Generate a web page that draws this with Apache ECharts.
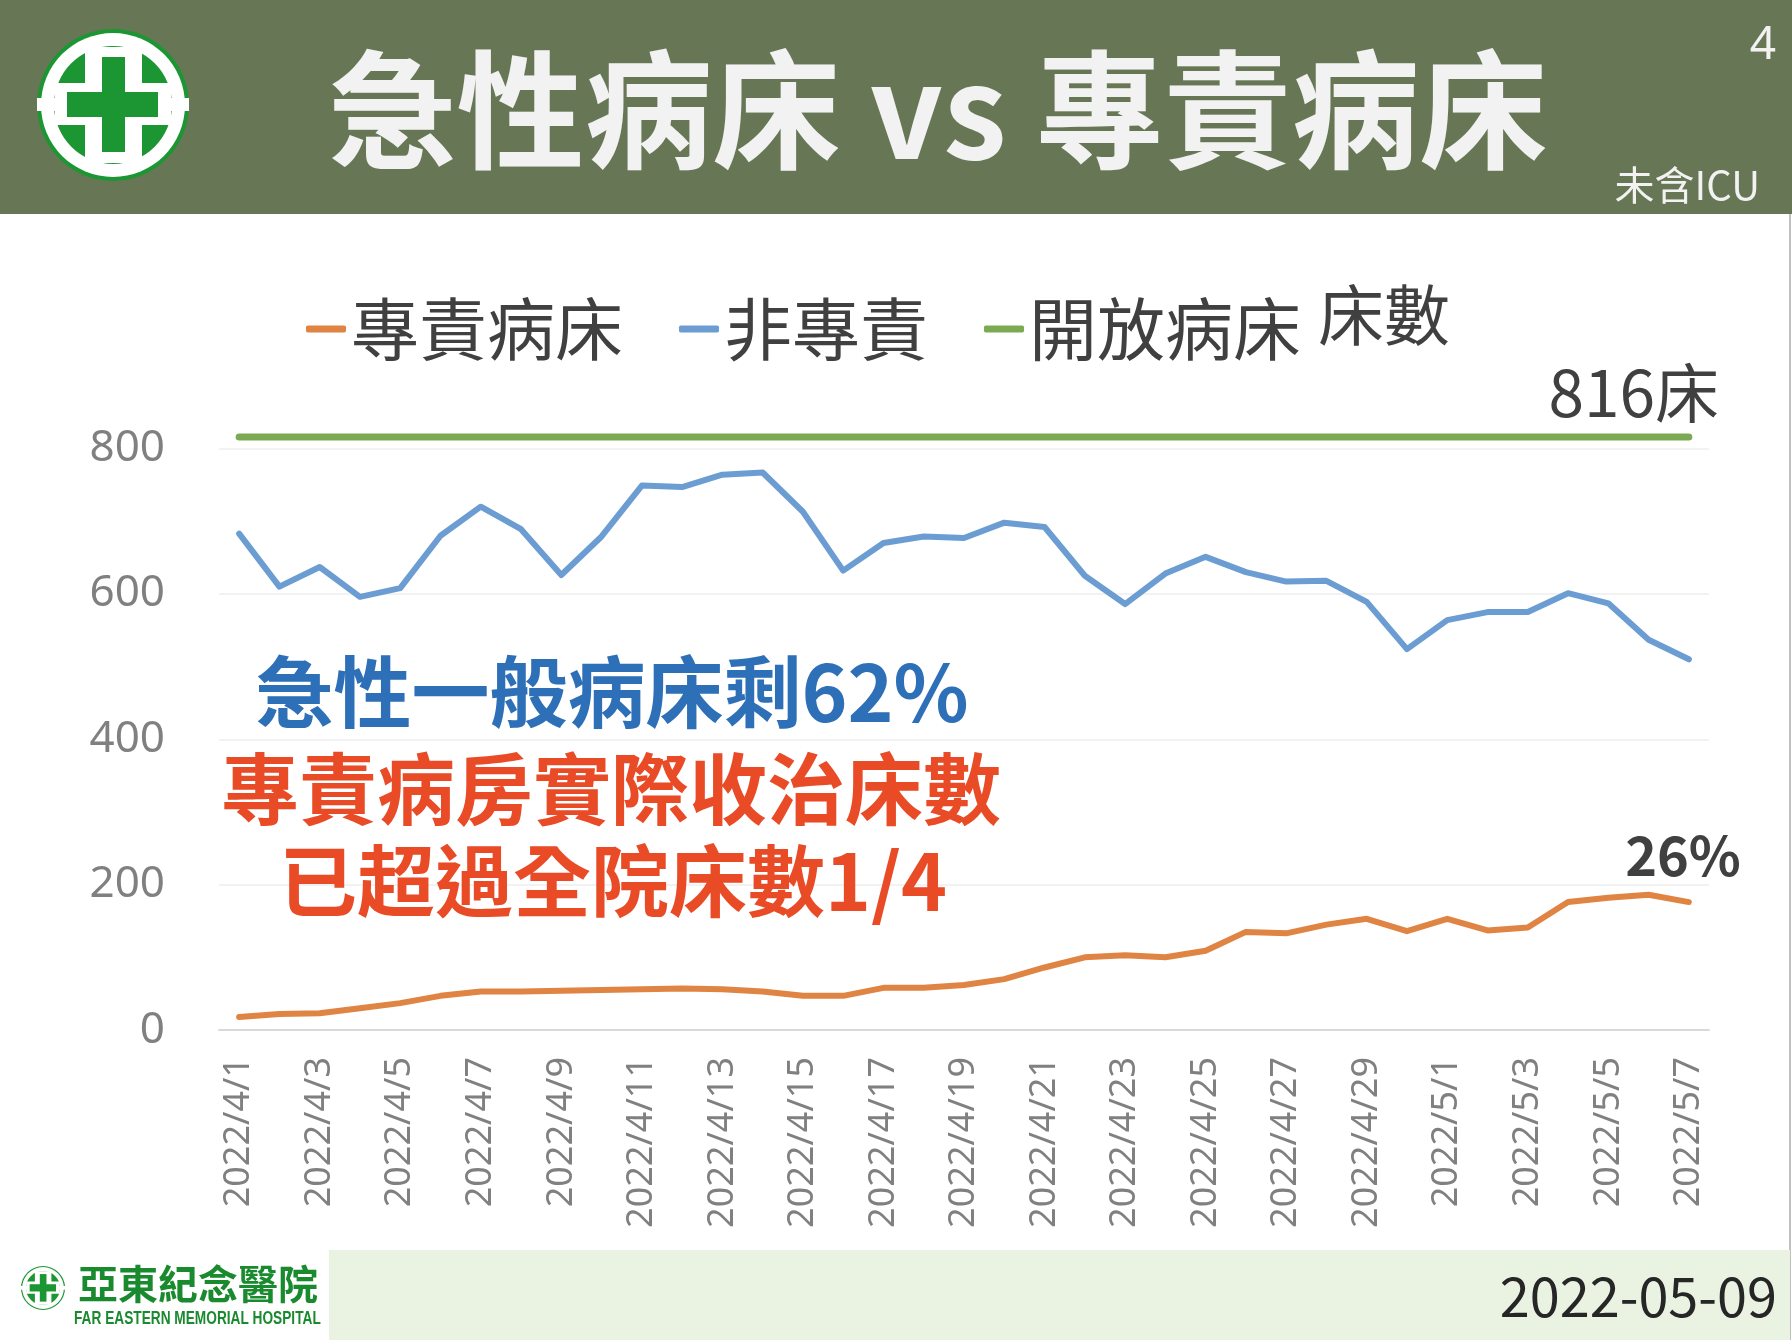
<!DOCTYPE html>
<html>
<head>
<meta charset="utf-8">
<title>急性病床 vs 專責病床</title>
<script src="https://cdn.jsdelivr.net/npm/echarts@6/dist/echarts.min.js"></script>
<style>
  html, body { margin: 0; padding: 0; background: #fff; }
  #main { width: 1792px; height: 1340px; }
</style>
</head>
<body>
<div id="main"></div>
<script>
var dates = ['2022/4/1','2022/4/2','2022/4/3','2022/4/4','2022/4/5','2022/4/6','2022/4/7','2022/4/8','2022/4/9','2022/4/10',
  '2022/4/11','2022/4/12','2022/4/13','2022/4/14','2022/4/15','2022/4/16','2022/4/17','2022/4/18','2022/4/19','2022/4/20',
  '2022/4/21','2022/4/22','2022/4/23','2022/4/24','2022/4/25','2022/4/26','2022/4/27','2022/4/28','2022/4/29','2022/4/30',
  '2022/5/1','2022/5/2','2022/5/3','2022/5/4','2022/5/5','2022/5/6','2022/5/7'];

// 專責病床
var covidBeds = [18, 22, 23, 30, 37, 47, 53, 53, 54, 55,
  56, 57, 56, 53, 47, 47, 58, 58, 62, 70,
  86, 100, 103, 100, 109, 135, 133, 145, 153, 136,
  153, 137, 141, 176, 182, 186, 176];

// 非專責
var otherBeds = [683, 610, 637, 596, 608, 680, 720, 689, 626, 679,
  749, 747, 764, 767, 713, 632, 670, 679, 677, 698,
  692, 625, 586, 628, 651, 630, 617, 618, 589, 524,
  564, 575, 575, 601, 587, 537, 510];

// 開放病床
var openBeds = [816, 816, 816, 816, 816, 816, 816, 816, 816, 816,
  816, 816, 816, 816, 816, 816, 816, 816, 816, 816,
  816, 816, 816, 816, 816, 816, 816, 816, 816, 816,
  816, 816, 816, 816, 816, 816, 816];

var yMax = 820;   // top of plot, just above the 816 line; only 0..800 are labelled

var CJK = '"Noto Sans CJK TC", "Noto Sans CJK SC", sans-serif';

function makeLogo(cx, cy, s) {
  var g = '#1c9632';
  return {
    type: 'group', x: cx, y: cy, scaleX: s, scaleY: s,
    children: [
      { type: 'circle', shape: { cx: 0, cy: 0, r: 76 }, style: { fill: g } },
      { type: 'circle', shape: { cx: 0, cy: 0, r: 72 }, style: { fill: '#fff' } },
      { type: 'circle', shape: { cx: 0, cy: 0, r: 59 }, style: { fill: g } },
      { type: 'rect', shape: { x: -76, y: -7, width: 152, height: 13 }, style: { fill: '#fff' } },
      { type: 'rect', shape: { x: -28, y: -58, width: 57, height: 116 }, style: { fill: '#fff' } },
      { type: 'rect', shape: { x: -58, y: -22, width: 116, height: 42 }, style: { fill: '#fff' } },
      { type: 'rect', shape: { x: -11, y: -48, width: 23, height: 95 }, style: { fill: g } },
      { type: 'rect', shape: { x: -46, y: -13, width: 91, height: 25 }, style: { fill: g } }
    ]
  };
}

var chart = echarts.init(document.getElementById('main'));

var option = {
  backgroundColor: '#ffffff',
  animation: false,
  textStyle: { fontFamily: CJK },
  legend: {
    left: 306,
    top: 295,
    padding: 0,
    itemGap: 56,
    itemWidth: 40,
    itemHeight: 7,
    icon: 'roundRect',
    textStyle: { fontSize: 68, color: '#404040', fontFamily: CJK },
    data: ['專責病床', '非專責', '開放病床']
  },
  grid: { left: 219, right: 83, top: 434, bottom: 310, containLabel: false },
  xAxis: {
    type: 'category',
    boundaryGap: true,
    data: dates,
    axisLine: { lineStyle: { color: '#d9d9d9', width: 2 } },
    axisTick: { show: false },
    axisLabel: {
      interval: 1,
      rotate: 90,
      margin: 27,
      fontSize: 36,
      color: '#808080',
      fontFamily: '"Noto Sans", sans-serif'
    }
  },
  yAxis: {
    type: 'value',
    min: 0,
    max: yMax,
    interval: 200,
    axisLine: { show: false },
    axisTick: { show: false },
    axisLabel: { fontSize: 44, color: '#808080', margin: 54, showMaxLabel: false,
      fontFamily: '"Noto Sans", sans-serif' },
    splitLine: { showMaxLine: false, lineStyle: { color: '#eeeeee', width: 1.5 } }
  },
  series: [
    {
      name: '專責病床', type: 'line', data: covidBeds,
      showSymbol: false, symbol: 'none',
      itemStyle: { color: '#e08443' },
      lineStyle: { color: '#e08443', width: 6, cap: 'round', join: 'round' }
    },
    {
      name: '非專責', type: 'line', data: otherBeds,
      showSymbol: false, symbol: 'none',
      itemStyle: { color: '#6b9dd3' },
      lineStyle: { color: '#6b9dd3', width: 6, cap: 'round', join: 'round' }
    },
    {
      name: '開放病床', type: 'line', data: openBeds,
      showSymbol: false, symbol: 'none',
      itemStyle: { color: '#7baa53' },
      lineStyle: { color: '#7baa53', width: 7, cap: 'round' }
    }
  ],
  graphic: [
    // header
    { type: 'rect', shape: { x: 0, y: 0, width: 1792, height: 214 }, style: { fill: '#677755' }, z: 0 },
    makeLogo(113, 105, 1),
    {
      type: 'text', x: 938, y: 110,
      style: { text: '急性病床 vs 專責病床', fill: '#f2f2f2', fontSize: 128, fontWeight: 'bold',
        fontFamily: CJK, textAlign: 'center', textVerticalAlign: 'middle' }
    },
    {
      type: 'text', x: 1763, y: 46,
      style: { text: '4', fill: '#f2f2f2', fontSize: 46, fontFamily: '"Noto Sans", sans-serif',
        textAlign: 'center', textVerticalAlign: 'middle' }
    },
    {
      type: 'text', x: 1760, y: 185,
      style: { text: '未含ICU', fill: '#f2f2f2', fontSize: 40, fontFamily: CJK,
        textAlign: 'right', textVerticalAlign: 'middle' }
    },
    // right border
    { type: 'line', shape: { x1: 1790, y1: 214, x2: 1790, y2: 1340 }, style: { stroke: '#c0c0c0', lineWidth: 2 } },
    // axis unit next to legend
    {
      type: 'text', x: 1318, y: 315,
      style: { text: '床數', fill: '#404040', fontSize: 66, fontFamily: CJK,
        textAlign: 'left', textVerticalAlign: 'middle' }
    },
    {
      type: 'text', x: 1719, y: 393,
      style: { text: '816床', fill: '#404040', fontSize: 64, fontFamily: CJK,
        textAlign: 'right', textVerticalAlign: 'middle' }
    },
    // annotations
    {
      type: 'text', x: 612, y: 692, z: 10,
      style: { text: '急性一般病床剩62%', fill: '#2e70b8', fontSize: 78, fontWeight: 'bold',
        fontFamily: CJK, textAlign: 'center', textVerticalAlign: 'middle' }
    },
    {
      type: 'text', x: 611, y: 789, z: 10,
      style: { text: '專責病房實際收治床數', fill: '#e84b26', fontSize: 78, fontWeight: 'bold',
        fontFamily: CJK, textAlign: 'center', textVerticalAlign: 'middle' }
    },
    {
      type: 'text', x: 613, y: 881, z: 10,
      style: { text: '已超過全院床數1/4', fill: '#e84b26', fontSize: 78, fontWeight: 'bold',
        fontFamily: CJK, textAlign: 'center', textVerticalAlign: 'middle' }
    },
    {
      type: 'text', x: 1683, y: 855, z: 10,
      style: { text: '26%', fill: '#404040', fontSize: 54, fontWeight: 'bold',
        fontFamily: CJK, textAlign: 'center', textVerticalAlign: 'middle' }
    },
    // footer
    { type: 'rect', shape: { x: 329, y: 1250, width: 1461, height: 90 }, style: { fill: '#eaf2e2' } },
    makeLogo(43, 1288, 0.29),
    {
      type: 'text', x: 78, y: 1284,
      style: { text: '亞東紀念醫院', fill: '#1a8a2e', fontSize: 40, fontWeight: 'bold',
        fontFamily: CJK, textAlign: 'left', textVerticalAlign: 'middle' }
    },
    {
      type: 'text', x: 74, y: 1319, scaleX: 0.72, originX: 0,
      style: { text: 'FAR EASTERN MEMORIAL HOSPITAL', fill: '#1a8a2e', fontSize: 19, fontWeight: 'bold',
        fontFamily: '"Liberation Sans Narrow", "Liberation Sans", sans-serif', textAlign: 'left', textVerticalAlign: 'middle' }
    },
    {
      type: 'text', x: 1777, y: 1296,
      style: { text: '2022-05-09', fill: '#262626', fontSize: 54, fontFamily: CJK,
        textAlign: 'right', textVerticalAlign: 'middle' }
    }
  ]
};

chart.setOption(option);
</script>
</body>
</html>
